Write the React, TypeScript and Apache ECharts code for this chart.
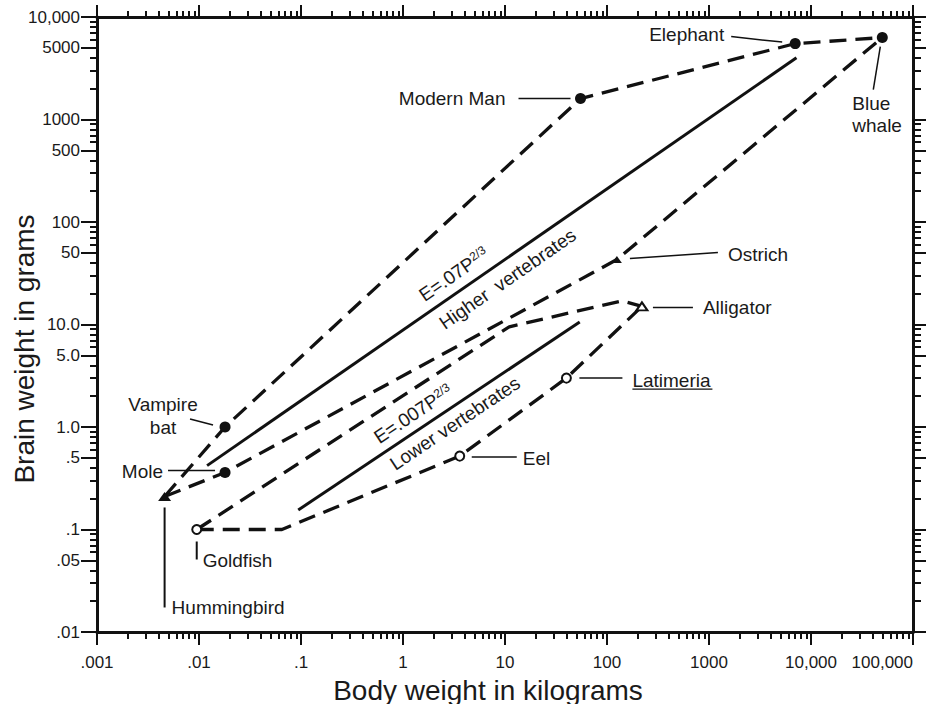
import { useEffect, useRef } from 'react';
import * as echarts from 'echarts';

const FONT = '"Liberation Sans", Arial, Helvetica, sans-serif';
const INK = '#111111';
const TEXT = '#1a1a1a';

// ---------- axis ticks & labels ----------
const xDecades = [0.001, 0.01, 0.1, 1, 10, 100, 1000, 10000, 100000];
const xTickLabels = ['.001', '.01', '.1', '1', '10', '100', '1000', '10,000', '100,000'];
const yDecades = [0.01, 0.1, 1, 10, 100, 1000, 10000];
const yLabelTicks = [0.01, 0.05, 0.1, 0.5, 1, 5, 10, 50, 100, 500, 1000, 5000, 10000];
const yTickLabels = ['.01', '.05', '.1', '.5', '1.0', '5.0', '10.0', '50', '100', '500', '1000', '5000', '10,000'];
const xMinorSteps = [2, 3, 4, 5, 6, 7, 8, 9];
const yMinorSteps = [2, 3, 4, 6, 7, 8, 9];

// ---------- animals: [body weight kg, brain weight g] ----------
const hummingbird = [0.0046, 0.21];
const vampireBat = [0.018, 1.0];
const mole = [0.018, 0.36];
const goldfish = [0.0095, 0.1];
const modernMan = [55, 1600];
const elephant = [7000, 5500];
const blueWhale = [50000, 6300];
const ostrich = [125, 43];
const alligator = [220, 15];
const latimeria = [40, 3.0];
const eel = [3.6, 0.52];

// ---------- envelope bend points ----------
const lowerUpperBends = [[11, 9.5], [140, 17]];
const lowerLowerBends = [[0.065, 0.1]];

// ---------- envelopes ----------
const higherUpper = [hummingbird, vampireBat, modernMan, elephant, blueWhale];
const higherLower = [hummingbird, mole, ostrich, blueWhale];
const lowerUpper = [goldfish, ...lowerUpperBends, alligator];
const lowerLower = [goldfish, ...lowerLowerBends, eel, latimeria, alligator];

// ---------- fitted lines E = k P^(2/3) (endpoints as drawn) ----------
const higherFit = [[0.012, 0.42], [7200, 4000]];
const lowerFit = [[0.094, 0.155], [54, 10.6]];

// ---------- marker groups ----------
const filledDots = [vampireBat, mole, modernMan, elephant, blueWhale];
const openDots = [goldfish, latimeria, eel];

function minorTicks(decades: number[], steps: number[]) {
  const out: number[] = [];
  decades.slice(0, -1).forEach((d) => steps.forEach((s) => out.push(d * s)));
  return out;
}
const xMinor = minorTicks(xDecades, xMinorSteps);
const yMinor = minorTicks(yDecades, yMinorSteps);

const lookup = (ticks: number[], labels: string[]) => (v: number) => {
  const lv = Math.log10(v);
  for (let i = 0; i < ticks.length; i++) {
    if (Math.abs(Math.log10(ticks[i]) - lv) < 1e-4) return labels[i];
  }
  return '';
};

type Ann = {
  point: number[];
  texts: { text: string; dx: number; dy: number; align: string }[];
  leaders: number[][];
  underline?: number[];
};

const annotations: Ann[] = [
  { point: elephant, texts: [{ text: 'Elephant', dx: -71, dy: -9, align: 'right' }], leaders: [[-64, -7, -13, -1.5, 1.5]] },
  { point: modernMan, texts: [{ text: 'Modern Man', dx: -75, dy: 0, align: 'right' }], leaders: [[-62, 0, -10, 0, 1.5]] },
  {
    point: blueWhale,
    texts: [
      { text: 'Blue', dx: -30, dy: 66, align: 'left' },
      { text: 'whale', dx: -30, dy: 88, align: 'left' },
    ],
    leaders: [[-2, 9, -9, 52, 1.5]],
  },
  { point: ostrich, texts: [{ text: 'Ostrich', dx: 111, dy: -5, align: 'left' }], leaders: [[13, -1, 101, -7, 1.5]] },
  { point: alligator, texts: [{ text: 'Alligator', dx: 61, dy: 1, align: 'left' }], leaders: [[11, 1, 51, 1, 1.5]] },
  {
    point: latimeria,
    texts: [{ text: 'Latimeria', dx: 66, dy: 2.5, align: 'left' }],
    leaders: [[13, 0, 56, 0, 1.5]],
    underline: [66, 146, 11],
  },
  { point: eel, texts: [{ text: 'Eel', dx: 63, dy: 2, align: 'left' }], leaders: [[12, 1, 57, 1, 1.5]] },
  {
    point: vampireBat,
    texts: [
      { text: 'Vampire', dx: -62, dy: -23, align: 'center' },
      { text: 'bat', dx: -62, dy: 0, align: 'center' },
    ],
    leaders: [[-35, -8, -12, -2, 1.5]],
  },
  { point: mole, texts: [{ text: 'Mole', dx: -62, dy: -1, align: 'right' }], leaders: [[-57, -2, -10, -2, 1.5]] },
  { point: goldfish, texts: [{ text: 'Goldfish', dx: 6, dy: 31, align: 'left' }], leaders: [[0, 12, 0, 30, 2]] },
  { point: hummingbird, texts: [{ text: 'Hummingbird', dx: 7, dy: 111, align: 'left' }], leaders: [[0, 11, 0, 111, 2]] },
];

const fitLabels = [
  { line: higherFit, t: 0.435, off: 17, text: 'E=.07P{s|2/3}' },
  { line: higherFit, t: 0.493, off: -17.5, text: 'Higher  vertebrates' },
  { line: lowerFit, t: 0.44, off: 16, text: 'E=.007P{s|2/3}' },
  { line: lowerFit, t: 0.527, off: -15, text: 'Lower vertebrates' },
];

function buildOption(): any {
  const xBase = {
    type: 'log',
    logBase: 10,
    min: 0.001,
    max: 100000,
    gridIndex: 0,
    splitLine: { show: false },
    minorTick: { show: false },
    minorSplitLine: { show: false },
  };
  const yBase = { ...xBase, min: 0.01, max: 10000 };
  const line = { show: true, onZero: false, lineStyle: { color: INK, width: 3 } };
  const noLine = { show: false, onZero: false };
  const tick = (values: number[], length: number) => ({
    show: true,
    customValues: values,
    length,
    lineStyle: { color: INK, width: 2 },
  });
  const dash = { color: INK, width: 3.3, type: [17, 9] };
  const solid = { color: INK, width: 3, type: 'solid' };
  const lineSeries = (data: number[][], style: any) => ({
    type: 'line',
    data,
    xAxisIndex: 0,
    yAxisIndex: 0,
    symbol: 'none',
    lineStyle: style,
    silent: true,
    z: 2,
  });
  const marker = (data: number[][], symbol: string, size: any, open: boolean) => ({
    type: 'scatter',
    data,
    symbol,
    symbolSize: size,
    itemStyle: open
      ? { color: '#ffffff', borderColor: INK, borderWidth: 2, opacity: 1 }
      : { color: INK, borderWidth: 0, opacity: 1 },
    silent: true,
    z: 5,
  });
  return {
    animation: false,
    backgroundColor: '#ffffff',
    grid: { left: 97, top: 17, width: 816, height: 615, containLabel: false, outerBoundsMode: 'none' },
    xAxis: [
      {
        ...xBase,
        position: 'bottom',
        axisLine: line,
        axisTick: tick(xDecades, 13),
        axisLabel: {
          show: true,
          customValues: xDecades,
          formatter: lookup(xDecades, xTickLabels),
          color: TEXT,
          fontSize: 17,
          fontFamily: FONT,
          margin: 22,
          alignMaxLabel: 'right',
        },
      },
      { ...xBase, position: 'bottom', axisLine: noLine, axisTick: tick(xMinor, 7), axisLabel: { show: false } },
      { ...xBase, position: 'top', axisLine: line, axisTick: tick(xDecades, 12), axisLabel: { show: false } },
      { ...xBase, position: 'top', axisLine: noLine, axisTick: tick(xMinor, 6), axisLabel: { show: false } },
    ],
    yAxis: [
      {
        ...yBase,
        position: 'left',
        axisLine: line,
        axisTick: tick(yLabelTicks, 16),
        axisLabel: {
          show: true,
          customValues: yLabelTicks,
          formatter: lookup(yLabelTicks, yTickLabels),
          color: TEXT,
          fontSize: 17,
          fontFamily: FONT,
          margin: 17,
        },
      },
      { ...yBase, position: 'left', axisLine: noLine, axisTick: tick(yMinor, 7), axisLabel: { show: false } },
      { ...yBase, position: 'right', axisLine: line, axisTick: tick(yLabelTicks, 13), axisLabel: { show: false } },
      { ...yBase, position: 'right', axisLine: noLine, axisTick: tick(yMinor, 8), axisLabel: { show: false } },
    ],
    series: [
      lineSeries(higherUpper, dash),
      lineSeries(higherLower, dash),
      lineSeries(lowerUpper, dash),
      lineSeries(lowerLower, dash),
      lineSeries(higherFit, solid),
      lineSeries(lowerFit, solid),
      marker(filledDots, 'circle', 11, false),
      marker([hummingbird], 'triangle', [13, 9], false),
      marker([ostrich], 'triangle', [10, 7], false),
      marker(openDots, 'circle', 9, true),
      marker([alligator], 'triangle', [11, 8], true),
    ],
  };
}

export default function App() {
  const ref = useRef<HTMLDivElement>(null);
  useEffect(() => {
    const el = ref.current;
    if (!el) return;
    document.body.style.margin = '0';
    const chart = echarts.init(el, null, { renderer: 'svg' });
    chart.setOption(buildOption());
    const toPx = (p: number[]) => chart.convertToPixel({ gridIndex: 0 } as any, p) as unknown as number[];
    const g: any[] = [];
    const txt = (x: number, y: number, text: string, align: string, size: number, extra: any = {}) => ({
      type: 'text',
      x,
      y,
      silent: true,
      z: 10,
      ...extra,
      style: {
        text,
        fontSize: size,
        fontFamily: FONT,
        fill: TEXT,
        textAlign: align,
        textVerticalAlign: 'middle',
        align,
        verticalAlign: 'middle',
        ...(extra.style || {}),
      },
    });
    annotations.forEach((a) => {
      const [px, py] = toPx(a.point);
      a.leaders.forEach((l) =>
        g.push({
          type: 'line',
          silent: true,
          z: 10,
          shape: { x1: px + l[0], y1: py + l[1], x2: px + l[2], y2: py + l[3] },
          style: { stroke: INK, lineWidth: l[4] },
        })
      );
      a.texts.forEach((t) => g.push(txt(px + t.dx, py + t.dy, t.text, t.align, 19)));
      if (a.underline) {
        const u = a.underline;
        g.push({
          type: 'line',
          silent: true,
          z: 10,
          shape: { x1: px + u[0], y1: py + u[2], x2: px + u[1], y2: py + u[2] },
          style: { stroke: INK, lineWidth: 1.3 },
        });
      }
    });
    fitLabels.forEach((f) => {
      const A = toPx(f.line[0]);
      const B = toPx(f.line[1]);
      const dx = B[0] - A[0];
      const dy = B[1] - A[1];
      const L = Math.hypot(dx, dy);
      const ux = dx / L;
      const uy = dy / L;
      const x = A[0] + ux * f.t * L + uy * f.off;
      const y = A[1] + uy * f.t * L - ux * f.off;
      g.push(
        txt(x, y, f.text, 'center', 19, {
          rotation: Math.atan2(-dy, dx),
          style: {
            rich: {
              s: { fontSize: 12, fontFamily: FONT, fill: TEXT, verticalAlign: 'top' },
            },
          },
        })
      );
    });
    g.push(txt(488, 690, 'Body weight in kilograms', 'center', 28));
    g.push(txt(24, 349, 'Brain weight in grams', 'center', 28, { rotation: Math.PI / 2 }));
    chart.setOption({ graphic: g });
    return () => chart.dispose();
  }, []);
  return <div ref={ref} style={{ position: 'absolute', left: 0, top: 0, width: 926, height: 704 }} />;
}
